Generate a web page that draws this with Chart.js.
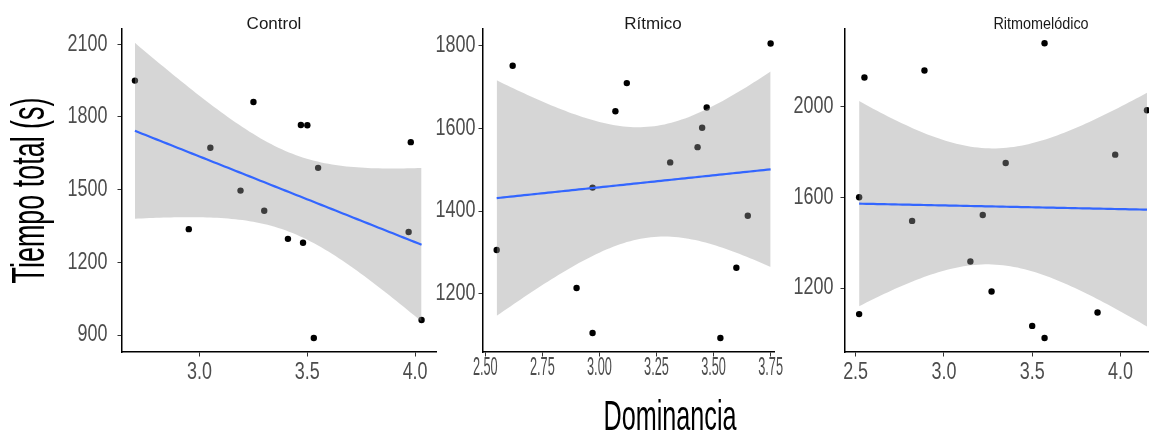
<!DOCTYPE html>
<html>
<head>
<meta charset="utf-8">
<script src="https://cdn.jsdelivr.net/npm/chart.js@4/dist/chart.umd.min.js"></script>
<style>
  html, body { margin: 0; padding: 0; background: #fff; }
  #wrap { position: relative; width: 1149px; height: 433px; overflow: hidden; }
  canvas { position: absolute; top: 0; }
</style>
</head>
<body>
<div id="wrap">
  <canvas id="c1" width="440" height="433" style="left:0px"></canvas>
  <canvas id="c2" width="372" height="433" style="left:420px"></canvas>
  <canvas id="c3" width="450" height="433" style="left:790px"></canvas>
</div>
<script>
// Dominancia (x) y Tiempo total en segundos (y), por grupo
const ctrlX = [2.70, 2.95, 3.05, 3.19, 3.25, 3.30, 3.41, 3.47, 3.50, 3.48, 3.53, 3.55, 3.98, 3.97, 4.03];
const ctrlY = [1950, 1337, 1673, 1496, 1862, 1413, 1297, 1767, 1766, 1281, 888, 1590, 1696, 1325, 962];

const ritX = [2.55, 2.62, 2.90, 2.97, 2.97, 3.07, 3.12, 3.31, 3.43, 3.45, 3.47, 3.53, 3.60, 3.65, 3.75];
const ritY = [1306, 1752, 1214, 1457, 1105, 1642, 1710, 1518, 1555, 1602, 1651, 1093, 1263, 1389, 1806];

const melX = [2.52, 2.52, 2.55, 2.82, 2.89, 3.15, 3.22, 3.27, 3.35, 3.50, 3.57, 3.57, 3.87, 3.97, 4.15];
const melY = [1600, 1085, 2128, 1496, 2159, 1317, 1522, 1185, 1751, 1033, 2279, 980, 1092, 1788, 1984];

const ctrlXTicks = [3.0, 3.5, 4.0];
const ctrlYTicks = [900, 1200, 1500, 1800, 2100];
const ritXTicks = [2.5, 2.75, 3.0, 3.25, 3.5, 3.75];
const ritYTicks = [1200, 1400, 1600, 1800];
const melXTicks = [2.5, 3.0, 3.5, 4.0];
const melYTicks = [1200, 1600, 2000];

const FONT = "'Liberation Sans', Arial, sans-serif";

// no narrow font installed: squeeze text horizontally, keyed by font size
const SQUEEZE = { '23': 0.78, '25': 0.51, '46': 0.585, '42': 0.6, '16': 0.9 };

function squeezeText(ctx) {
  const orig = ctx.fillText.bind(ctx);
  ctx.fillText = function (text, x, y, maxWidth) {
    const m = /(\d+(?:\.\d+)?)px/.exec(this.font);
    const k = m ? (SQUEEZE[m[1]] || 1) : 1;
    if (k === 1) return orig(text, x, y, maxWidth);
    this.save();
    this.translate(x, y);
    this.scale(k, 1);
    orig(text, 0, 0);
    this.restore();
  };
  return ctx;
}

// strip titles and shared x title, placed like the facet layout
const textLabels = {
  id: 'textLabels',
  afterDraw(chart, args, opts) {
    const ctx = chart.ctx;
    (opts.items || []).forEach(it => {
      ctx.save();
      ctx.font = `normal ${it.size}px ${FONT}`;
      ctx.fillStyle = it.color;
      ctx.textAlign = 'center';
      ctx.textBaseline = 'alphabetic';
      ctx.fillText(it.text, it.x, it.y);
      ctx.restore();
    });
  }
};

// t quantile 0.975 for df = n - 2 (n = 15)
const T975 = { 13: 2.1604 };

// linear fit + 95% confidence band, like geom_smooth(method = "lm")
function lmBand(xs, ys) {
  const n = xs.length;
  const mx = xs.reduce((a, b) => a + b, 0) / n;
  const my = ys.reduce((a, b) => a + b, 0) / n;
  let sxx = 0, sxy = 0;
  xs.forEach((x, i) => { sxx += (x - mx) ** 2; sxy += (x - mx) * (ys[i] - my); });
  const b = sxy / sxx;
  const a = my - b * mx;
  let sse = 0;
  xs.forEach((x, i) => { sse += (ys[i] - a - b * x) ** 2; });
  const s = Math.sqrt(sse / (n - 2));
  const t = T975[n - 2];
  const lo = Math.min(...xs), hi = Math.max(...xs);
  const fit = [], upper = [], lower = [];
  for (let k = 0; k <= 80; k++) {
    const x = lo + (hi - lo) * k / 80;
    const yh = a + b * x;
    const se = s * Math.sqrt(1 / n + (x - mx) ** 2 / sxx);
    fit.push({ x, y: yh });
    upper.push({ x, y: yh + t * se });
    lower.push({ x, y: yh - t * se });
  }
  return { fit, upper, lower };
}

function makePanel(id, cfg) {
  const band = lmBand(cfg.xs, cfg.ys);
  const pts = cfg.xs.map((x, i) => ({ x, y: cfg.ys[i] }));
  const axisGrid = { display: true, drawOnChartArea: false, drawTicks: true, tickLength: 4.5, color: '#333', lineWidth: 1 };
  const axisBorder = { display: true, color: '#000', width: 1.5 };
  const ctx = squeezeText(document.getElementById(id).getContext('2d'));

  new Chart(ctx, {
    type: 'scatter',
    data: {
      datasets: [
        { type: 'line', data: band.fit, borderColor: '#3366FF', borderWidth: 2.2,
          pointRadius: 0, fill: false, order: 0 },
        { type: 'line', data: band.upper, borderWidth: 0, pointRadius: 0,
          backgroundColor: 'rgba(153,153,153,0.4)', fill: '+1', order: 1 },
        { type: 'line', data: band.lower, borderWidth: 0, pointRadius: 0, fill: false, order: 1 },
        { data: pts, backgroundColor: '#000', borderWidth: 0, pointRadius: 3.2, order: 2 }
      ]
    },
    plugins: [textLabels],
    options: {
      responsive: false,
      animation: false,
      layout: { padding: { right: cfg.padRight, top: 29, left: 0, bottom: 0 } },
      plugins: {
        legend: { display: false },
        tooltip: { enabled: false },
        textLabels: { items: cfg.labels }
      },
      scales: {
        x: {
          type: 'linear',
          min: cfg.xMin, max: cfg.xMax,
          grid: axisGrid, border: axisBorder,
          afterBuildTicks: s => { s.ticks = cfg.xTicks.map(v => ({ value: v })); },
          afterFit: s => { s.height = 81; },
          ticks: {
            color: '#4d4d4d', padding: cfg.xPad, maxRotation: 0, autoSkip: false,
            font: { family: FONT, size: cfg.xTickSize },
            callback: v => v.toFixed(cfg.xDec)
          }
        },
        y: {
          type: 'linear',
          min: cfg.yMin, max: cfg.yMax,
          grid: axisGrid, border: axisBorder,
          afterBuildTicks: s => { s.ticks = cfg.yTicks.map(v => ({ value: v })); },
          afterFit: s => { s.width = cfg.yWidth; },
          ticks: {
            color: '#4d4d4d', padding: cfg.yPad,
            font: { family: FONT, size: 23 },
            callback: v => String(v)
          },
          title: cfg.yTitle ? {
            display: true, text: cfg.yTitle, color: '#000',
            font: { family: FONT, size: 46, lineHeight: 1 },
            padding: { top: 8, bottom: 0 }
          } : { display: false }
        }
      }
    }
  });
}

makePanel('c1', {
  xs: ctrlX, ys: ctrlY,
  labels: [{ text: 'Control', x: 274, y: 29, size: 17, color: '#1a1a1a' }],
  xMin: 2.64, xMax: 4.097, xTicks: ctrlXTicks, xDec: 1, xTickSize: 23, xPad: 2,
  yMin: 830, yMax: 2163, yTicks: ctrlYTicks, yPad: 10,
  yWidth: 122, padRight: 2, yTitle: 'Tiempo total (s)'
});

makePanel('c2', {
  xs: ritX, ys: ritY,
  labels: [
    { text: 'Rítmico', x: 233, y: 29, size: 17, color: '#1a1a1a' },
    { text: 'Dominancia', x: 250, y: 430, size: 42, color: '#000' }
  ],
  xMin: 2.49, xMax: 3.768, xTicks: ritXTicks, xDec: 2, xTickSize: 25, xPad: -3,
  yMin: 1059, yMax: 1841, yTicks: ritYTicks, yPad: 3,
  yWidth: 63, padRight: 2
});

// this panel runs past the right edge of the picture
makePanel('c3', {
  xs: melX, ys: melY,
  labels: [{ text: 'Ritmomelódico', x: 251, y: 29, size: 16, color: '#1a1a1a' }],
  xMin: 2.44, xMax: 4.654, xTicks: melXTicks, xDec: 1, xTickSize: 23, xPad: 2,
  yMin: 918, yMax: 2342, yTicks: melYTicks, yPad: 7,
  yWidth: 55, padRight: 3
});
</script>
</body>
</html>
